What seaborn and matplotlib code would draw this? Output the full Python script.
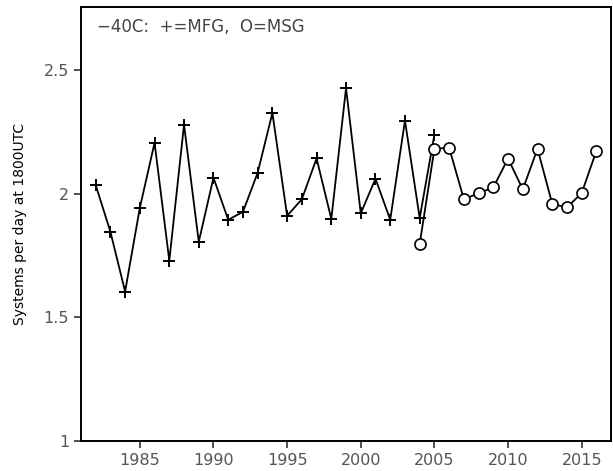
import matplotlib
matplotlib.use('Agg')
import matplotlib.pyplot as plt
import pandas as pd
import seaborn as sns

# MFG (Meteosat First Generation) series
mfg_years = list(range(1982, 2006))
mfg_values = [2.035, 1.846, 1.604, 1.942, 2.205, 1.729, 2.278, 1.805, 2.064, 1.894,
              1.926, 2.084, 2.326, 1.910, 1.977, 2.142, 1.897, 2.426, 1.920, 2.060,
              1.894, 2.295, 1.901, 2.238]

# MSG (Meteosat Second Generation) series
msg_years = list(range(2004, 2017))
msg_values = [1.796, 2.181, 2.185, 1.977, 2.001, 2.025, 2.141, 2.017, 2.181, 1.958,
              1.944, 2.002, 2.173]

x_ticks = [1985, 1990, 1995, 2000, 2005, 2010, 2015]
y_ticks = [1, 1.5, 2, 2.5]
y_tick_labels = ['1', '1.5', '2', '2.5']

df_mfg = pd.DataFrame({'year': mfg_years, 'systems': mfg_values})
df_msg = pd.DataFrame({'year': msg_years, 'systems': msg_values})

sns.set_style('ticks')
plt.rcParams['font.family'] = ['DejaVu Sans']

fig = plt.figure(figsize=(6.13, 4.71), dpi=100)
ax = fig.add_axes([0.132, 0.0637, 0.865, 0.921])

sns.lineplot(data=df_mfg, x='year', y='systems', ax=ax, color='black', linewidth=1.3,
             marker='+', markersize=8.5, markeredgewidth=1.4, markeredgecolor='black')
sns.lineplot(data=df_msg, x='year', y='systems', ax=ax, color='black', linewidth=1.3,
             marker='o', markersize=8, markerfacecolor='white', markeredgecolor='black',
             markeredgewidth=1.2)

ax.set_xlim(1981, 2017)
ax.set_ylim(1, 2.753)
ax.set_xticks(x_ticks)
ax.set_yticks(y_ticks)
ax.set_yticklabels(y_tick_labels)
ax.tick_params(axis='both', labelsize=11.5, labelcolor='#555555', length=5, width=1.2,
               color='#333333', direction='out')
ax.set_xlabel('')
ax.set_ylabel('Systems per day at 1800UTC', fontsize=10, color='black', labelpad=12)

for side in ax.spines.values():
    side.set_visible(True)
    side.set_linewidth(1.4)
    side.set_color('black')

ax.text(0.03, 0.975, '\u221240C:  +=MFG,  O=MSG', transform=ax.transAxes,
        ha='left', va='top', fontsize=12, color='#444444')

fig.savefig('out.png', dpi=100)
